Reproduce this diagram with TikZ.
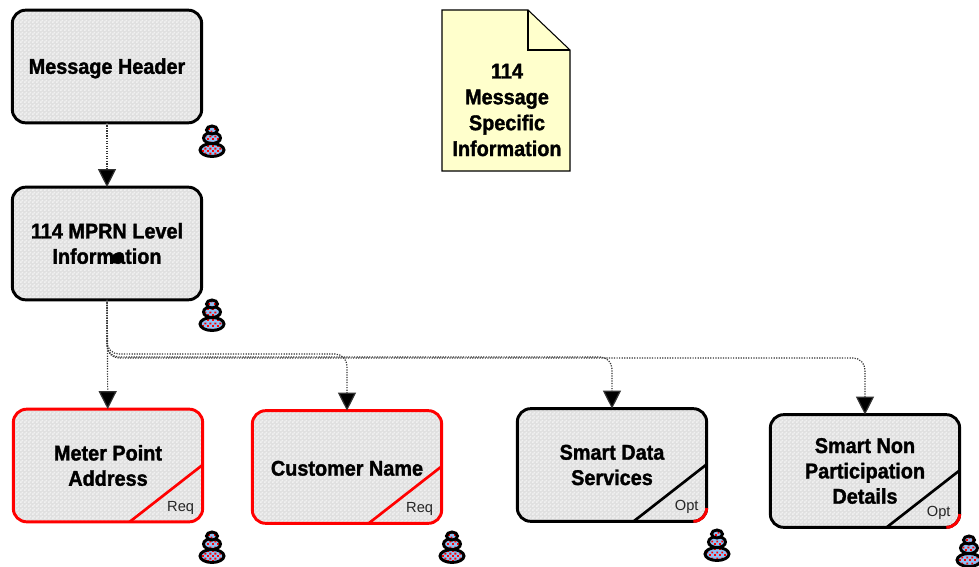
\documentclass[tikz,border=0pt]{standalone}
\usepackage{fontspec}
\setmainfont[BoldFeatures={FakeBold=1.5,FakeStretch=0.93}]{Liberation Sans}
\usetikzlibrary{shapes,arrows,positioning,calc,patterns,arrows.meta}
\definecolor{boxgray}{HTML}{E0E0E0}
\definecolor{boxlight}{HTML}{F1F1F1}
\definecolor{notefill}{HTML}{FFFFCC}
\definecolor{iconblue}{HTML}{8FC0F5}
\pgfdeclarepatternformonly{checks}{\pgfpointorigin}{\pgfpoint{3pt}{3pt}}{\pgfpoint{3pt}{3pt}}{
    \pgfpathrectangle{\pgfpointorigin}{\pgfpoint{1.5pt}{1.5pt}}
    \pgfpathrectangle{\pgfpoint{1.5pt}{1.5pt}}{\pgfpoint{1.5pt}{1.5pt}}
    \pgfusepath{fill}
}
\pgfdeclarepatternformonly{iconchecks}{\pgfpointorigin}{\pgfpoint{4pt}{4pt}}{\pgfpoint{4pt}{4pt}}{
    \pgfpathrectangle{\pgfpointorigin}{\pgfpoint{1.5pt}{1.5pt}}
    \pgfpathrectangle{\pgfpoint{2pt}{2pt}}{\pgfpoint{1.5pt}{1.5pt}}
    \pgfusepath{fill}
}
\tikzset{
    msgbox/.style={draw, rounded corners=10pt, line width=2.2pt, outer sep=0pt,
        preaction={fill=boxgray}, pattern=checks, pattern color=boxlight,
        minimum width=142pt, minimum height=84.5pt, align=center,
        font=\fontsize{16}{19}\selectfont\bfseries},
    redbox/.style={msgbox, draw=red},
    blackbox/.style={msgbox, draw=black},
    tagtext/.style={font=\fontsize{11}{13}\selectfont, inner sep=0pt, text=black!85},
    link/.style={densely dotted, line width=0.9pt, black!80, rounded corners=9pt,
        -{Triangle[length=13.5pt,width=13.5pt,fill=black]}},
    stackpart/.style={draw=black, line width=2.2pt, preaction={fill=iconblue},
        pattern=iconchecks, pattern color=red},
    stackicon/.pic={
        \path[stackpart] (0,9) ellipse [x radius=12, y radius=6.5];
        \path[stackpart] (0,-3) ellipse [x radius=8.5, y radius=5.5];
        \path[stackpart] (0,-11) ellipse [x radius=5.5, y radius=4];
    }
}
\begin{document}
\begin{tikzpicture}[x=0.75pt, y=-0.75pt]
    \useasboundingbox (0,0) rectangle (979,567);

    % top of the tree
    \node [blackbox, text height=11pt, text depth=0pt] (MH) at (107,66.5) {Message Header};
    \node [blackbox] (ML) at (107,243.5) {114 MPRN Level\\Information};

    % children
    \node [redbox] (MP) at (108,465.5) {Meter Point\\Address};
    \node [redbox, text height=13pt, text depth=0pt] (CN) at (347,467) {Customer Name};
    \node [blackbox] (SD) at (612,465) {Smart Data\\Services};
    \node [blackbox] (SN) at (865,471) {Smart Non\\Participation\\Details};

    % note with folded corner
    \coordinate (NA) at (442,10);
    \coordinate (NB) at (528,10);
    \coordinate (NC) at (570,50);
    \coordinate (ND) at (570,171);
    \coordinate (NE) at (442,171);
    \coordinate (NF) at (528,50);
    \draw [fill=notefill, line width=0.8pt] (NA) -- (NB) -- (NC) -- (ND) -- (NE) -- cycle;
    \draw [line width=0.8pt] (NB) -- (NF) -- (NC);
    \node [align=center, font=\fontsize{16}{19.4}\selectfont\bfseries] (NT) at (507,110)
        {114\\Message\\Specific\\Information};

    % corner cuts
    \draw [red, line width=2pt] ($(MP.south east)+(-73,0)$) -- ($(MP.south east)+(0,-57)$);
    \draw [red, line width=2pt] ($(CN.south east)+(-73,0)$) -- ($(CN.south east)+(0,-57)$);
    \draw [line width=2pt] ($(SD.south east)+(-73,0)$) -- ($(SD.south east)+(0,-57)$);
    \draw [line width=2pt] ($(SN.south east)+(-73,0)$) -- ($(SN.south east)+(0,-57)$);
    \draw [red, line width=2.2pt] ($(SD.south east)+(0,-13.3)$) .. controls ($(SD.south east)+(0,-5.9)$) and ($(SD.south east)+(-5.9,0)$) .. ($(SD.south east)+(-13.3,0)$);
    \draw [red, line width=2.2pt] ($(SN.south east)+(0,-13.3)$) .. controls ($(SN.south east)+(0,-5.9)$) and ($(SN.south east)+(-5.9,0)$) .. ($(SN.south east)+(-13.3,0)$);

    \node [tagtext] (MPtag) at ($(MP.south east)+(-22,-14)$) {Req};
    \node [tagtext] (CNtag) at ($(CN.south east)+(-22,-14)$) {Req};
    \node [tagtext] (SDtag) at ($(SD.south east)+(-20,-14)$) {Opt};
    \node [tagtext] (SNtag) at ($(SN.south east)+(-21,-14)$) {Opt};

    % connectors
    \draw [link] (MH) -- (ML);
    \draw [link] (ML) -- (MP);
    \draw [link] (ML.south) |- (347,354) -- (CN.north);
    \draw [link] (ML.south) |- (612,357) -- (SD.north);
    \draw [link] (ML.south) |- (865,358) -- (SN.north);

    % stray mark
    \node [draw, fill=black, ellipse, rotate=30, minimum width=10pt, minimum height=7pt, inner sep=0pt] (BL) at (117,258) {};

    \pic (MHicon) at (212,141) {stackicon};
    \pic (MLicon) at (212,315) {stackicon};
    \pic (MPicon) at (212,547) {stackicon};
    \pic (CNicon) at (452,547) {stackicon};
    \pic (SDicon) at (717,545) {stackicon};
    \pic (SNicon) at (969,551) {stackicon};
\end{tikzpicture}
\end{document}
